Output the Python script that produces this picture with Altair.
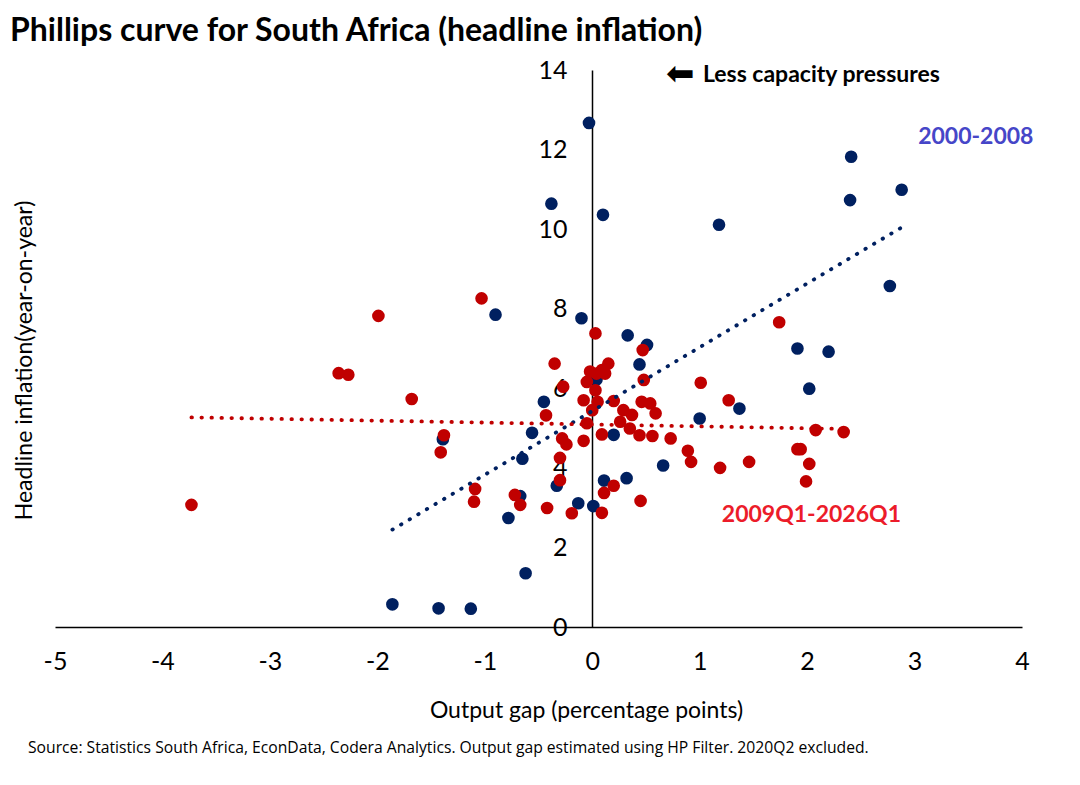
import altair as alt
import pandas as pd

# 2000-2008 (output gap, headline inflation)
blue_x = [-0.90, -0.10, -0.45, -0.56, -1.39, -0.65, -0.33, -0.67, -0.78, -0.13,
          0.01, -0.62, -1.86, -1.43, -1.13, 0.33, 0.51, 0.44, 0.20, 0.04,
          0.66, 0.32, 0.11, 1.00, 2.77, 1.91, 2.20, 2.02, 1.37, -0.03,
          -0.38, 0.10, 1.18, 2.41, 2.40, 2.88]
blue_y = [7.85, 7.76, 5.66, 4.88, 4.72, 4.23, 3.55, 3.29, 2.74, 3.11,
          3.04, 1.35, 0.57, 0.47, 0.46, 7.33, 7.09, 6.60, 4.83, 6.22,
          4.06, 3.74, 3.68, 5.24, 8.57, 7.00, 6.92, 5.99, 5.49, 12.67,
          10.64, 10.36, 10.11, 11.82, 10.73, 10.99]

# 2009Q1-2026Q1
red_x = [-1.03, -1.99, -2.36, -2.27, -1.68, -1.38, -1.41, -3.73, -1.09, -1.10,
         -0.72, -0.67, -0.42, -0.19, -0.35, -0.43, -0.30, -0.30, -0.28, -0.24,
         -0.27, -0.08, -0.08, -0.05, 0.03, 0.47, 0.15, 0.09, -0.02, -0.05,
         0.12, 0.04, 0.03, 0.48, 0.05, 0.20, 0.46, 0.54, 0.29, 0.37,
         0.59, 0.00, 0.26, 0.35, 0.44, 0.56, 0.09, 0.73, 0.20, 0.11,
         0.45, 0.09, 1.01, 0.89, 0.92, 1.19, 1.27, 1.74, 2.08, 2.34,
         1.46, 1.91, 1.94, 2.02, 1.99]
red_y = [8.26, 7.82, 6.38, 6.34, 5.73, 4.82, 4.39, 3.07, 3.47, 3.15,
         3.32, 3.07, 2.99, 2.86, 6.62, 5.32, 3.69, 4.25, 4.74, 4.59,
         6.04, 5.70, 4.68, 5.12, 7.38, 6.96, 6.62, 6.46, 6.42, 6.16,
         6.37, 6.37, 5.95, 6.21, 5.66, 5.68, 5.66, 5.62, 5.45, 5.33,
         5.37, 5.45, 5.16, 4.99, 4.82, 4.80, 4.84, 4.74, 3.55, 3.37,
         3.17, 2.87, 6.14, 4.43, 4.15, 4.00, 5.70, 7.66, 4.95, 4.90,
         4.15, 4.47, 4.47, 4.10, 3.66]

periods = ["2000-2008", "2009Q1-2026Q1"]
point_colors = ["#002060", "#C00000"]
x_ticks = [-5, -4, -3, -2, -1, 0, 1, 2, 3, 4]
y_ticks = [0, 2, 4, 6, 8, 10, 12, 14]

title_text = "Phillips curve for South Africa (headline inflation)"
x_title = "Output gap (percentage points)"
y_title = "Headline inflation(year-on-year)"
source_text = ("Source: Statistics South Africa, EconData, Codera Analytics. "
               "Output gap estimated using HP Filter. 2020Q2 excluded.")

df = pd.concat([
    pd.DataFrame({"gap": blue_x, "infl": blue_y, "period": periods[0]}),
    pd.DataFrame({"gap": red_x, "infl": red_y, "period": periods[1]}),
], ignore_index=True)

labels = pd.DataFrame({
    "gap": [3.57, 2.04],
    "infl": [12.31, 2.81],
    "text": periods,
    "col": ["#4646C8", "#EC1C2A"],
})
note = pd.DataFrame({"gap": [0.82, 1.03], "infl": [13.88, 13.88],
                     "text": ["\u2b05", "Less capacity pressures"]})

xscale = alt.Scale(domain=[-5, 4], nice=False, zero=False)
yscale = alt.Scale(domain=[0, 14], nice=False, zero=False)
cscale = alt.Scale(domain=periods, range=point_colors)

x_axis = alt.Axis(values=x_ticks, labelExpr="'' + datum.value", title=x_title,
                  labelFont="Lato", labelFontSize=25, labelColor="black",
                  labelPadding=22, labelFlush=False, ticks=False, grid=False,
                  domainColor="black", domainWidth=1.5,
                  titleFont="Lato", titleFontSize=23, titleFontWeight="normal",
                  titleColor="black", titleX=531, titleY=83,
                  titleBaseline="middle")
y_axis = alt.Axis(values=y_ticks, labelExpr="'' + datum.value", title=y_title,
                  labelFont="Lato", labelFontSize=25, labelColor="black",
                  labelPadding=25, labelFlush=False, ticks=False, grid=False,
                  offset=-537, domainColor="black", domainWidth=1.5,
                  titleFont="Lato", titleFontSize=23, titleFontWeight="normal",
                  titleColor="black", titleX=-568, titleY=290,
                  titleBaseline="middle", titleAngle=270)

base = alt.Chart(df)

points = base.mark_circle(size=160, opacity=1).encode(
    x=alt.X("gap:Q", scale=xscale, axis=x_axis),
    y=alt.Y("infl:Q", scale=yscale, axis=y_axis),
    color=alt.Color("period:N", scale=cscale, legend=None),
)

trend = base.transform_regression("gap", "infl", groupby=["period"]).mark_line(
    strokeDash=[0.5, 9.5], strokeCap="round", strokeWidth=3.8
).encode(
    x=alt.X("gap:Q", scale=xscale),
    y=alt.Y("infl:Q", scale=yscale),
    color=alt.Color("period:N", scale=cscale, legend=None),
)

label_layer = alt.Chart(labels).mark_text(
    font="Lato", fontSize=23, fontWeight="bold", align="center", baseline="middle"
).encode(
    x=alt.X("gap:Q", scale=xscale),
    y=alt.Y("infl:Q", scale=yscale),
    text="text:N",
    color=alt.Color("col:N", scale=None),
)

arrow = alt.Chart(note.iloc[[0]]).mark_text(
    font="DejaVu Sans", fontSize=34, align="center", baseline="middle", color="black"
).encode(
    x=alt.X("gap:Q", scale=xscale),
    y=alt.Y("infl:Q", scale=yscale),
    text="text:N",
)
note_text = alt.Chart(note.iloc[[1]]).mark_text(
    font="Lato", fontSize=23, fontWeight="bold", align="left", baseline="middle",
    color="black"
).encode(
    x=alt.X("gap:Q", scale=xscale),
    y=alt.Y("infl:Q", scale=yscale),
    text="text:N",
)

source = alt.Chart(pd.DataFrame({"t": [source_text]})).mark_text(
    font="Open Sans", fontSize=15.7, align="left", baseline="middle", color="black"
).encode(text="t:N", x=alt.value(-27), y=alt.value(678))

chart = alt.layer(points, trend, label_layer, arrow, note_text, source).properties(
    width=967, height=557,
    title=alt.TitleParams(title_text, anchor="start", frame="group", font="Lato",
                          fontSize=32, fontWeight="bold", color="black", dx=-45,
                          offset=10),
    padding={"left": 47, "top": 62, "right": 40, "bottom": 140},
    autosize=alt.AutoSizeParams(type="none"),
).configure_view(stroke=None)

chart.save("out.html", embed_options={"renderer": "svg", "actions": False})
